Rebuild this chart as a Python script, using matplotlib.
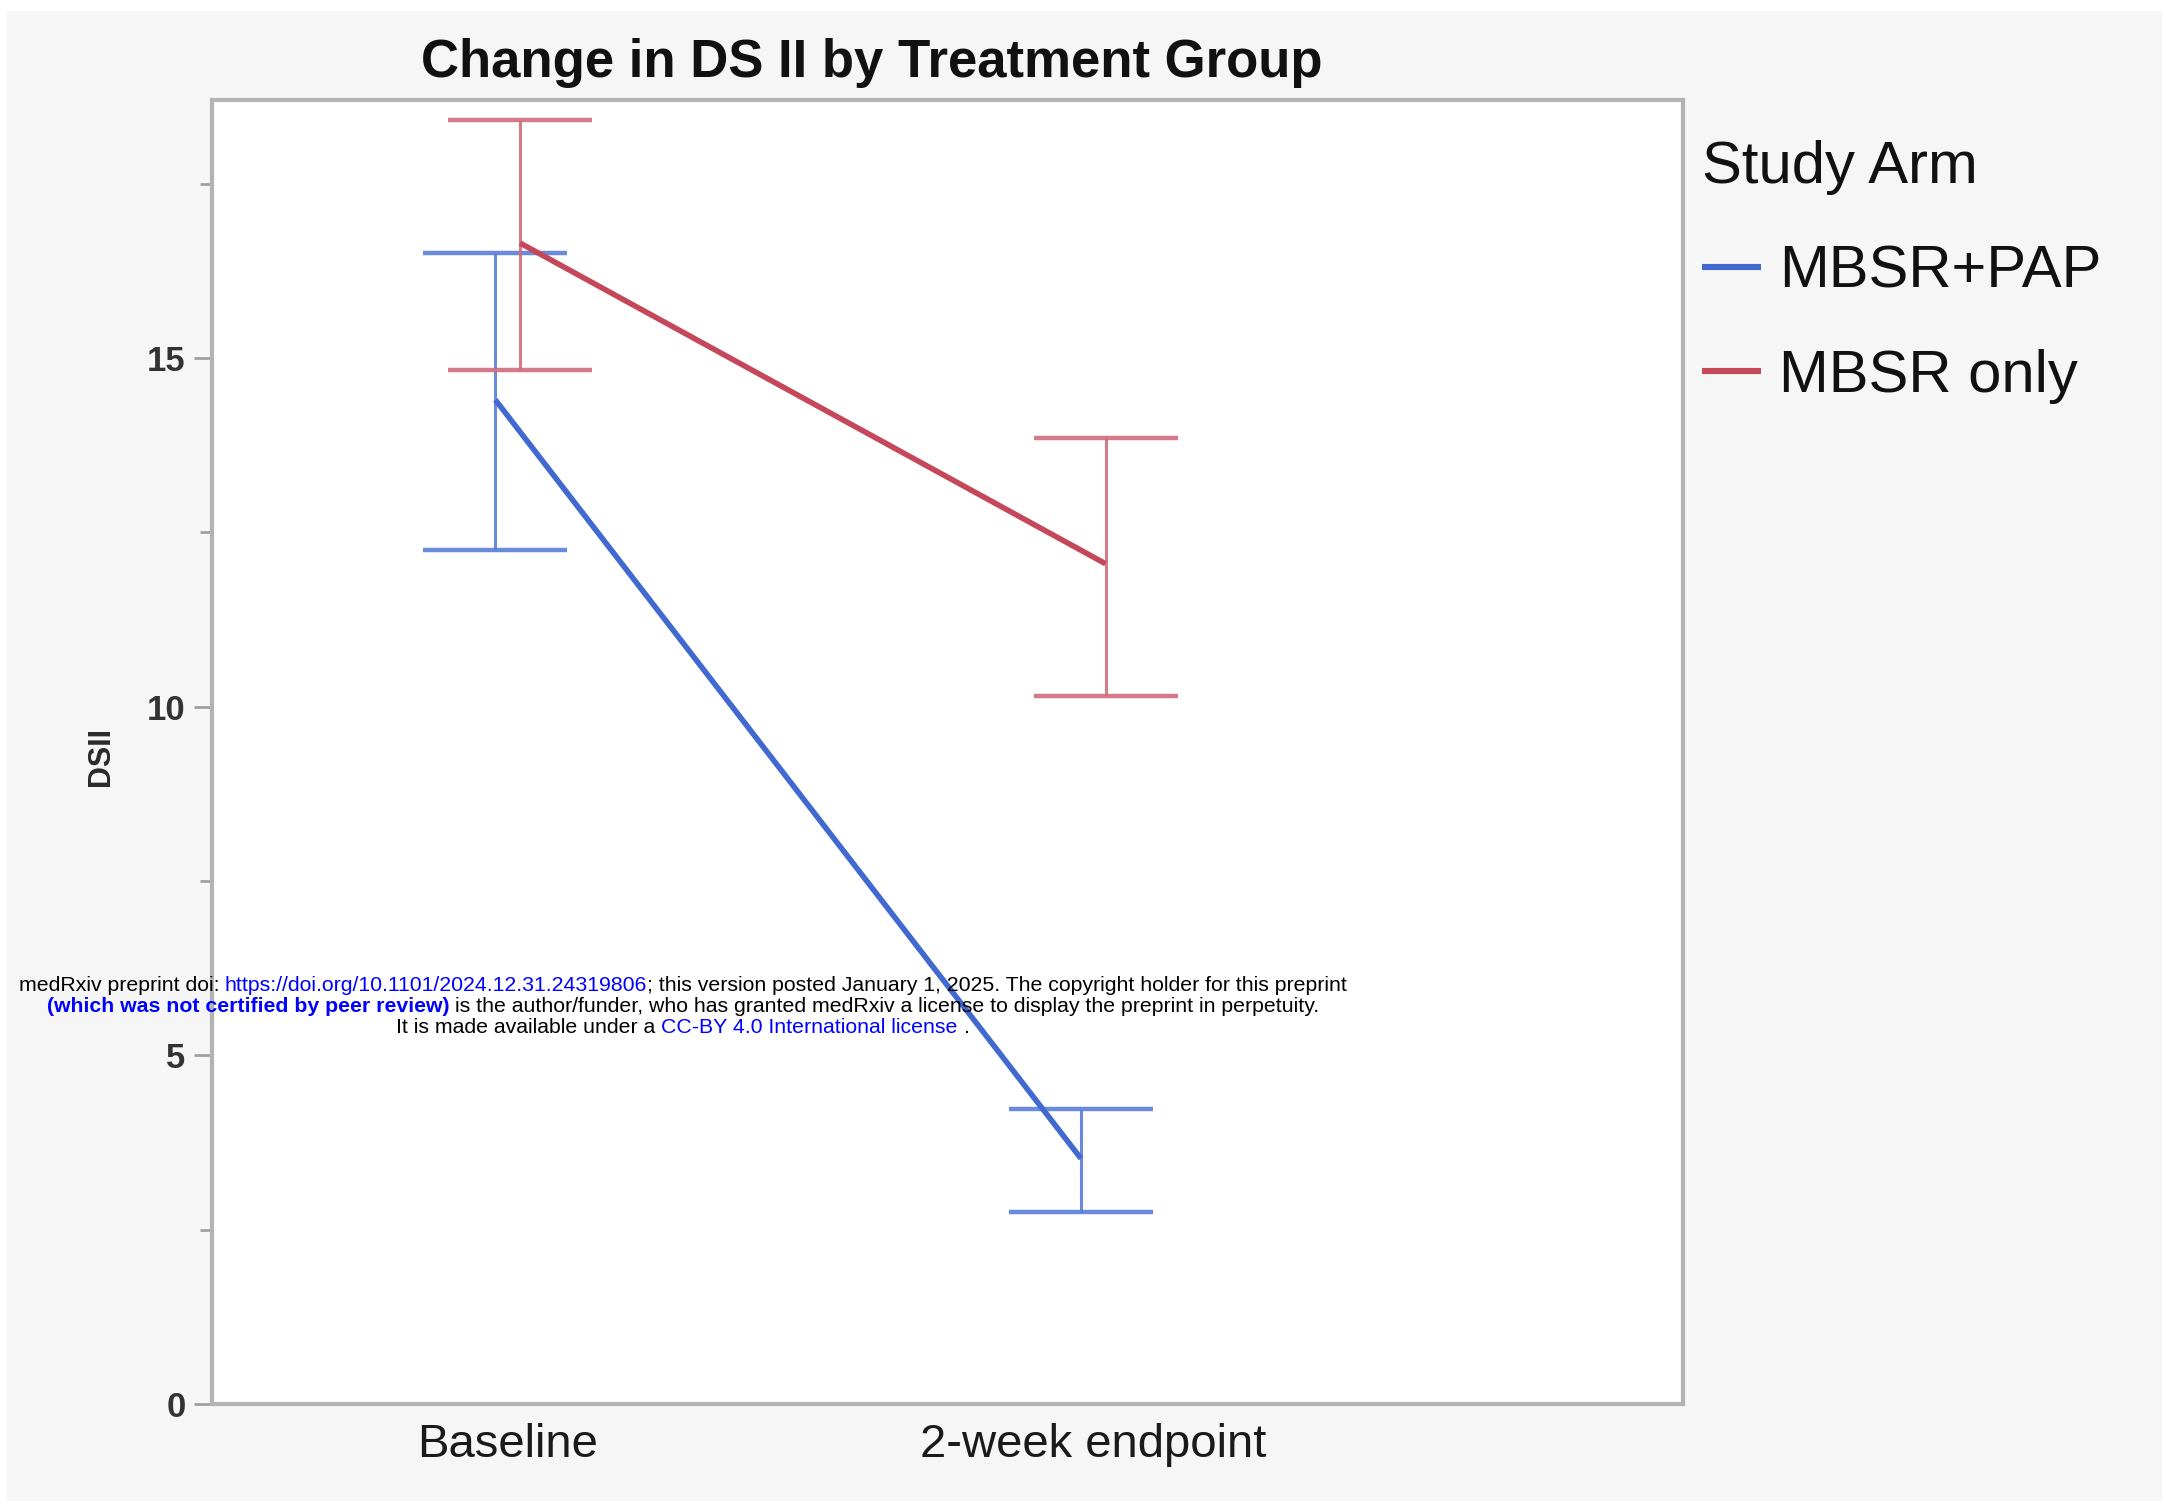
import matplotlib
matplotlib.use("Agg")
import matplotlib.pyplot as plt
from matplotlib.patches import Rectangle
import numpy as np

# ---------------- data ----------------
timepoints = ["Baseline", "2-week endpoint"]
arms = ["MBSR+PAP", "MBSR only"]
mean_pap = [14.4, 3.52]
upper_pap = [16.5, 4.23]
lower_pap = [12.25, 2.76]
mean_only = [16.65, 12.05]
upper_only = [18.42, 13.85]
lower_only = [14.83, 10.15]
yticks_major = [0, 5, 10, 15]
yticks_minor = [2.5, 7.5, 12.5, 17.5]

plt.rcParams['font.family'] = ['Liberation Sans', 'DejaVu Sans']

W, H = 2176, 1504
DPI = 200
fig = plt.figure(figsize=(W / DPI, H / DPI), dpi=DPI, facecolor='white')
fig.add_artist(Rectangle((0.0032, 0.002), 0.9904, 0.9906, transform=fig.transFigure,
                         facecolor='#f6f6f6', edgecolor='none', zorder=-10))

ax = fig.add_axes([0.0974, 0.0665, 0.676, 0.867])
ax.set_facecolor('white')

blue = '#4169cf'
red = '#c5475a'
blue_eb = '#5a7fd8'
red_eb = '#d06d7c'
dodge = 0.021
x = np.arange(len(timepoints))

series = [
    (mean_pap, upper_pap, lower_pap, blue, blue_eb, -dodge),
    (mean_only, upper_only, lower_only, red, red_eb, +dodge),
]
handles = []
for (m, up, lo, c, ce, off), name in zip(series, arms):
    m = np.array(m); up = np.array(up); lo = np.array(lo)
    xx = x + off
    ax.errorbar(xx, m, yerr=[m - lo, up - m], fmt='none', ecolor=ce, elinewidth=1.1,
                capsize=26, capthick=1.6, alpha=0.9, zorder=2)
    ln, = ax.plot(xx, m, color=c, lw=2.0, solid_capstyle='butt', zorder=3, label=name)
    handles.append(ln)

ax.set_xlim(-0.505, 2.007)
ax.set_ylim(0, 18.7)
ax.set_xticks(x)
ax.set_xticklabels(timepoints, fontsize=17, color='#1a1a1a')
ax.tick_params(axis='x', length=0, pad=7)
ax.set_yticks(yticks_major)
ax.set_yticks(yticks_minor, minor=True)
ax.set_yticklabels([str(v) for v in yticks_major], fontsize=12.5, fontweight='bold', color='#333333')
ax.tick_params(axis='y', which='major', length=6.5, width=1.0, color='#a0a0a0', pad=3)
ax.tick_params(axis='y', which='minor', length=4.5, width=1.0, color='#a0a0a0')
for s in ax.spines.values():
    s.set_color('#b3b3b3')
    s.set_linewidth(1.5)

fig.text(0.0466, 0.497, "DSII", rotation=90, ha='center', va='center', fontsize=11,
         fontweight='bold', color='#2a2a2a')

fig.text(0.4005, 0.958, "Change in DS II by Treatment Group", ha='center', va='center',
         fontsize=19, fontweight='bold', color='#111111')

leg = ax.legend(handles=handles, labels=arms, loc='upper left',
                bbox_to_anchor=(0.782, 0.907), bbox_transform=fig.transFigure,
                frameon=False, borderpad=0, fontsize=21.5, title='Study Arm',
                title_fontsize=21.5, alignment='left', handlelength=1.0,
                handletextpad=0.3, labelspacing=0.83, borderaxespad=0)
for t in leg.get_texts():
    t.set_color('#111111')
leg.get_title().set_color('#111111')
for h in leg.legend_handles:
    h.set_linewidth(2.2)

# ---------------- watermark ----------------
fig.canvas.draw()
r = fig.canvas.get_renderer()
fs = 7.65
wblue = '#0000ff'


def width_of(s, weight):
    t = fig.text(0, 0, s, fontsize=fs, fontweight=weight)
    w = t.get_window_extent(renderer=r).width
    t.remove()
    return w


def seg_width(s, weight):
    core = s.strip(' ')
    nspace = len(s) - len(s.lstrip(' ')) + len(s) - len(s.rstrip(' '))
    sp = width_of('x x', weight) - width_of('xx', weight)
    lead = (len(s) - len(s.lstrip(' '))) * sp
    return lead, (width_of(core, weight) if core else 0), nspace * sp


lines = [
    ([("medRxiv preprint doi: ", 'black', 'normal'),
      ("https://doi.org/10.1101/2024.12.31.24319806", wblue, 'normal'),
      ("; this version posted January 1, 2025. The copyright holder for this preprint", 'black', 'normal')], 0.345),
    ([("(which was not certified by peer review)", wblue, 'bold'),
      (" is the author/funder, who has granted medRxiv a license to display the preprint in perpetuity.", 'black', 'normal')], 0.331),
    ([("It is made available under a ", 'black', 'normal'),
      ("CC-BY 4.0 International license", wblue, 'normal'),
      (" .", 'black', 'normal')], 0.317),
]
xc = 0.3138 * W
for segs, y in lines:
    info = [seg_width(s, wt) for s, c, wt in segs]
    total = sum(a[1] + a[2] for a in info)
    x0 = xc - total / 2
    for (s, c, wt), (lead, cw, spw) in zip(segs, info):
        core = s.strip(' ')
        if core:
            fig.text((x0 + lead) / W, y, core, fontsize=fs, fontweight=wt, color=c,
                     ha='left', va='center')
        x0 += cw + spw

fig.savefig("out.png", dpi=DPI, facecolor=fig.get_facecolor())
